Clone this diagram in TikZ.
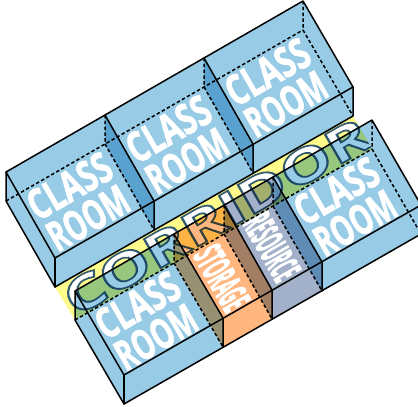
\documentclass[tikz,border=0pt]{standalone}
\usepackage{fontspec}
\setmainfont{Open Sans}
\usepackage{graphicx}
\definecolor{roomblue}{HTML}{97CBE6}
\definecolor{corridoryellow}{HTML}{FFFB8A}
\definecolor{storeorange}{HTML}{FFB67F}
\definecolor{resgrey}{HTML}{A2B1C9}
\newcommand\outlined[1]{\special{pdf:code q 2 Tr 0.35 w 0.2 0.36 0.45 RG}#1\special{pdf:code 0 Tr Q}}
\newcommand\heavy[2]{\special{pdf:code q 2 Tr #1 w 1 1 1 RG}#2\special{pdf:code 0 Tr Q}}
\newcommand\classtext{\heavy{0.8}{\begin{tabular}{@{}c@{}}\scalebox{.72}[1]{CLASS}\\[-3pt]\scalebox{.65}[1]{ROOM}\end{tabular}}}
\renewcommand\arraystretch{0.72}
\tikzset{
  edge/.style={line width=1.5pt,line join=round,line cap=round},
  hidden/.style={line width=1.5pt,dash pattern=on 3.4pt off 2.4pt},
  roomlabel/.style={text=white,rotate=30,inner sep=0pt,font=\fontsize{42}{44}\selectfont\bfseries},
  narrowlabel/.style={text=white,rotate=-60,inner sep=0pt,font=\bfseries},
}
\newcommand\roomhex[3]{\fill[#3] (#1) -- (#2) -- (f#2) -- (fh#2) -- (fh#1) -- (h#1) -- cycle;}
\begin{document}
\begin{tikzpicture}[x=1pt,y=-1pt]
\clip (0,0) rectangle (418,407);
\fill[white] (0,0) rectangle (418,407);
% back row
\foreach \n/\x/\y/\fx/\fy in {a/6/172/55/258,b/105/115/154/201,c/204/58/253/144,d/303/1/353/87}{
  \coordinate (\n) at (\x,\y);
  \coordinate (f\n) at (\fx,\fy);
  \coordinate (h\n) at (\x,\y+29);
  \coordinate (fh\n) at (\fx,\fy+29);
}
% front row
\foreach \n/\x/\y/\fx/\fy in {p/75/291/124/375,q/174/234/223/318,r/224/205/272/290,s/273/177/322/262,t/372/120/421/205}{
  \coordinate (\n) at (\x,\y);
  \coordinate (f\n) at (\fx,\fy);
  \coordinate (h\n) at (\x,\y+29);
  \coordinate (fh\n) at (\fx,\fy+29);
}
% corridor
\fill[corridoryellow] (fha) -- (fhd) -- (ht) -- (hp) -- cycle;
\begin{scope}
\clip (fha) -- (fhd) -- (ht) -- (hp) -- cycle;
\node[rotate=30,inner sep=0pt,text=white,font=\bfseries] (corr) at (216.5,216.5) {\resizebox{345pt}{34pt}{\outlined{CORRIDOR}}};
\end{scope}
% translucent rooms
\begin{scope}[blend mode=multiply]
\roomhex{a}{b}{roomblue}
\roomhex{b}{c}{roomblue}
\roomhex{c}{d}{roomblue}
\roomhex{p}{q}{roomblue}
\roomhex{q}{r}{storeorange}
\roomhex{r}{s}{resgrey}
\roomhex{s}{t}{roomblue}
\end{scope}
% labels
\node[roomlabel] (l1) at (81,206) {\classtext};
\node[roomlabel] (l2) at (180,149) {\classtext};
\node[roomlabel] (l3) at (279,92) {\classtext};
\node[roomlabel] (l4) at (149,325) {\classtext};
\node[roomlabel] (l5) at (348,211) {\classtext};
\node[narrowlabel] (l6) at (222,278) {\resizebox{68pt}{29pt}{\heavy{0.3}{STORAGE}}};
\node[narrowlabel] (l7) at (272,247) {\resizebox{70pt}{29pt}{\heavy{0.3}{RESOURCE}}};
% hidden lines
\draw[hidden] (ha) -- (hb) -- (hc) -- (hd);
\draw[hidden] (hp) -- (hq) -- (hr) -- (hs) -- (ht);
\foreach \n in {b,c,d,q,r,s,t}{
  \draw[hidden] (\n) -- (h\n) -- (fh\n);
}
% visible lines
\draw[edge] (a) -- (d) -- (fd) -- (fa) -- cycle;
\draw[edge] (a) -- (ha) -- (fha) -- (fhd) -- (fd);
\draw[edge] (fa) -- (fha);
\foreach \n in {b,c}{\draw[edge] (\n) -- (f\n) -- (fh\n);}
\draw[edge] (p) -- (t) -- (ft) -- (fp) -- cycle;
\draw[edge] (p) -- (hp) -- (fhp) -- (fht);
\draw[edge] (fp) -- (fhp);
\foreach \n in {q,r,s}{\draw[edge] (\n) -- (f\n) -- (fh\n);}
\end{tikzpicture}
\end{document}
